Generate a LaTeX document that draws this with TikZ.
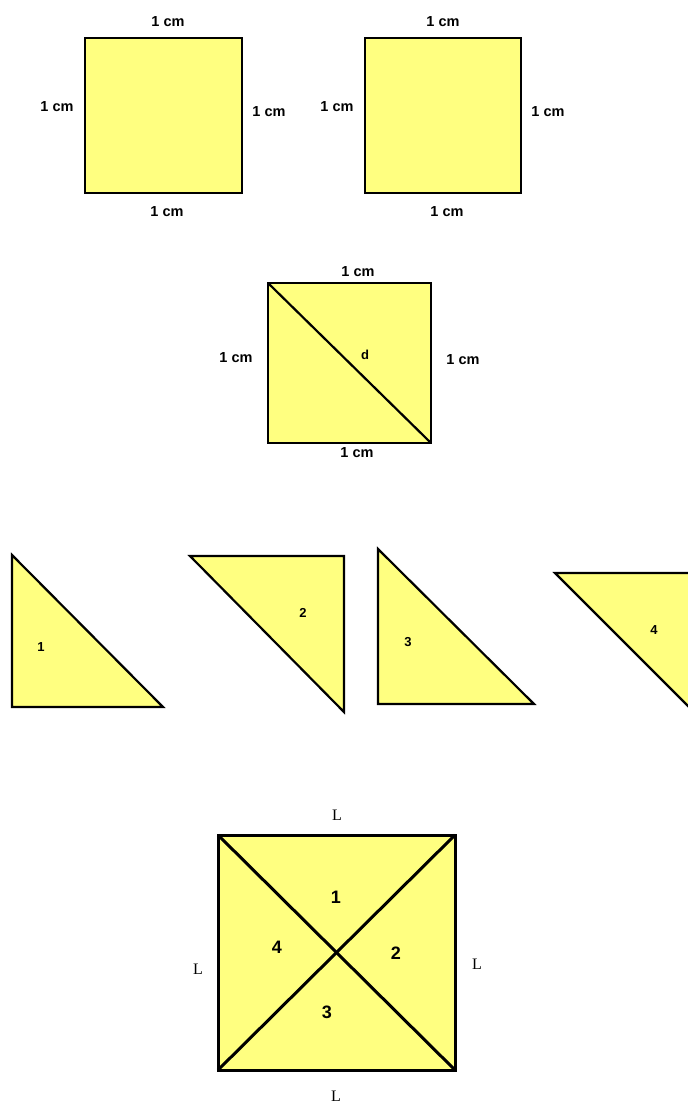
\documentclass[tikz,border=0pt]{standalone}
\usepackage{fontspec}
\setmainfont{Liberation Serif}
\newfontfamily\arialf{Liberation Sans}
\definecolor{pale}{RGB}{255,255,128}
\tikzset{
  piece/.style={draw=black,fill=pale,line width=2.2pt,line join=miter},
  bigpiece/.style={draw=black,fill=pale,line width=3pt,line join=miter},
  cmlab/.style={font=\arialf\bfseries\fontsize{14.5}{14.5}\selectfont,inner sep=0pt},
  numlab/.style={font=\arialf\bfseries\fontsize{13}{13}\selectfont,inner sep=0pt},
  bignumlab/.style={font=\arialf\bfseries\fontsize{18}{18}\selectfont,inner sep=0pt},
  elllab/.style={font=\fontsize{16}{16}\selectfont,inner sep=0pt}
}
\begin{document}
\begin{tikzpicture}[x=1pt,y=-1pt]
\useasboundingbox (0,0) rectangle (688,1104);
\clip (0,0) rectangle (688,1104);
% square A
\draw[piece] (85,38) rectangle (242,193);
\node[cmlab] (a1) at (168,22) {1 cm};
\node[cmlab] (a2) at (57,107) {1 cm};
\node[cmlab] (a3) at (269,112) {1 cm};
\node[cmlab] (a4) at (167,212) {1 cm};
% square B
\draw[piece] (365,38) rectangle (521,193);
\node[cmlab] (b1) at (443,22) {1 cm};
\node[cmlab] (b2) at (337,107) {1 cm};
\node[cmlab] (b3) at (548,112) {1 cm};
\node[cmlab] (b4) at (447,212) {1 cm};
% middle square with diagonal
\draw[piece] (268,283) rectangle (431,443);
\draw[line width=2.2pt] (268,283) -- (431,443);
\node[cmlab] (c1) at (358,272) {1 cm};
\node[cmlab] (c2) at (236,358) {1 cm};
\node[cmlab] (c3) at (463,360) {1 cm};
\node[cmlab] (c4) at (357,453) {1 cm};
\node[numlab] (dd) at (365,355) {d};
% triangles
\draw[piece] (12,555) -- (12,707) -- (163,707) -- cycle;
\node[numlab] (t1) at (41,647) {1};
\draw[piece] (190,556) -- (344,556) -- (344,712) -- cycle;
\node[numlab] (t2) at (303,613) {2};
\draw[piece] (378,549) -- (378,704) -- (534,704) -- cycle;
\node[numlab] (t3) at (408,642) {3};
\draw[piece] (555,573) -- (712,573) -- (712,730) -- cycle;
\node[numlab] (t4) at (654,630) {4};
% big square
\draw[bigpiece] (218,835) rectangle (455,1070);
\draw[line width=3pt] (218,835) -- (455,1070);
\draw[line width=3pt] (218,1070) -- (455,835);
\node[bignumlab] (n1) at (336,897) {1};
\node[bignumlab] (n2) at (396,953) {2};
\node[bignumlab] (n3) at (327,1012) {3};
\node[bignumlab] (n4) at (277,947) {4};
\node[elllab] (l1) at (337,815) {L};
\node[elllab] (l2) at (198,969) {L};
\node[elllab] (l3) at (477,964) {L};
\node[elllab] (l4) at (336,1096) {L};
\end{tikzpicture}
\end{document}
